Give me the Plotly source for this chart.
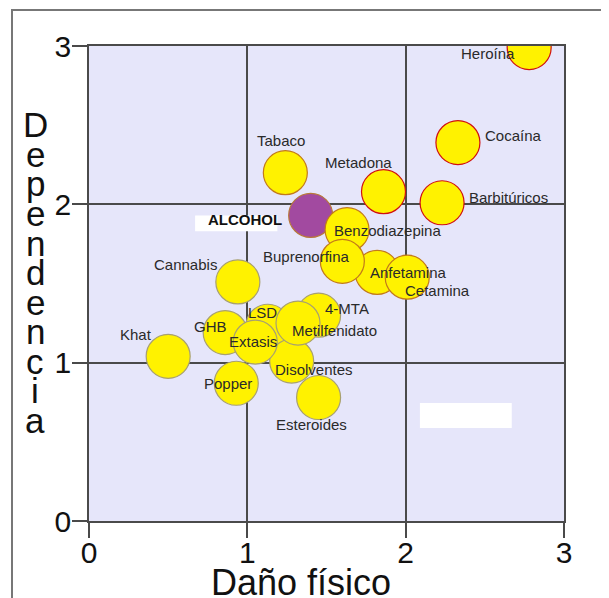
import plotly.graph_objects as go

# ---- data ----
drugs = ["Heroína", "Cocaína", "Barbitúricos", "Metadona", "ALCOHOL", "Cetamina",
         "Benzodiazepina", "Anfetamina", "Tabaco", "Buprenorfina", "Cannabis",
         "Disolventes", "4-MTA", "LSD", "Metilfenidato", "Esteroides", "GHB",
         "Extasis", "Popper", "Khat"]
dano_fisico = [2.78, 2.33, 2.23, 1.86, 1.40, 2.01,
               1.63, 1.82, 1.24, 1.60, 0.94,
               1.28, 1.45, 1.13, 1.32, 1.45, 0.86,
               1.05, 0.93, 0.50]
dependencia = [2.99, 2.39, 2.01, 2.08, 1.93, 1.54,
               1.84, 1.57, 2.20, 1.64, 1.51,
               1.01, 1.30, 1.23, 1.25, 0.78, 1.19,
               1.13, 0.87, 1.04]
x_ticks = [0, 1, 2, 3]
y_ticks = [0, 1, 2, 3]

# ---- styling ----
FONT = "Liberation Sans, Arial, sans-serif"
draw_order = ["Anfetamina", "Cetamina", "ALCOHOL", "Benzodiazepina", "Buprenorfina",
              "Tabaco", "Metadona", "Barbitúricos", "Cocaína", "Heroína",
              "LSD", "4-MTA", "GHB", "Disolventes", "Metilfenidato", "Extasis",
              "Popper", "Esteroides", "Khat", "Cannabis"]
red_edge = {"Heroína", "Cocaína", "Barbitúricos", "Metadona"}
orange_edge = {"Tabaco", "Benzodiazepina", "Buprenorfina", "Anfetamina", "Cetamina"}

# label offsets in px (dx right, dy down) and anchor
label_off = {
    "Heroína": (-41, 6, "center"), "Cocaína": (25, -7, "left"),
    "Barbitúricos": (25, -5, "left"), "Metadona": (-25, -29, "center"),
    "Tabaco": (-4, -32, "center"), "ALCOHOL": (-66, 4, "center"),
    "Benzodiazepina": (40, 1, "center"), "Buprenorfina": (-36, -5, "center"),
    "Anfetamina": (31, 0, "center"), "Cetamina": (30, 13, "center"),
    "Cannabis": (-52, -17, "center"), "4-MTA": (28, -7, "center"),
    "LSD": (-5, -14, "center"), "GHB": (-15, -6, "center"),
    "Metilfenidato": (36, 7, "center"), "Khat": (-32, -22, "center"),
    "Extasis": (-2, -1, "center"), "Disolventes": (22, 8, "center"),
    "Popper": (-8, 0, "center"), "Esteroides": (-7, 27, "center"),
}

idx = [drugs.index(n) for n in draw_order]
xs = [dano_fisico[i] for i in idx]
ys = [dependencia[i] for i in idx]
fills, edges = [], []
for n in draw_order:
    if n == "ALCOHOL":
        fills.append("#a24aa0"); edges.append("#b8783a")
    else:
        fills.append("#fff200")
        if n in red_edge:
            edges.append("#d01010")
        elif n in orange_edge:
            edges.append("#c27a1a")
        else:
            edges.append("#a8a070")

fig = go.Figure()
fig.add_trace(go.Scatter(
    x=xs, y=ys, mode="markers", text=draw_order, hoverinfo="text",
    marker=dict(size=44, color=fills, opacity=1,
                line=dict(color=edges, width=1.2)),
    cliponaxis=True, showlegend=False))

annotations = []
for n, xv, yv in zip(drugs, dano_fisico, dependencia):
    dx, dy, anc = label_off[n]
    bold = n == "ALCOHOL"
    annotations.append(dict(
        x=xv, y=yv, xref="x", yref="y", text=f"<b>{n}</b>" if bold else n,
        showarrow=False, xanchor=anc, yanchor="middle",
        xshift=dx, yshift=-dy,
        font=dict(family=FONT, size=15, color="#111" if bold else "#2a2a2a")))

# plot area in screen pixels: x 89..564, y 46..521 (page has an 8px body margin)
PX0, PY0, S = 89, 521, 475

# x-axis title
annotations.append(dict(x=(301 - PX0) / S, y=(PY0 - 582) / S, xref="paper", yref="paper",
                        text="Daño físico", showarrow=False, xanchor="center",
                        yanchor="middle", font=dict(family=FONT, size=36, color="#111")))
# y-axis title, letters stacked vertically
ytitle = "Dependencia"
for k, ch in enumerate(ytitle):
    base = 137 + 29.5 * k
    annotations.append(dict(x=(35 - PX0) / S, y=(PY0 - (base - 12)) / S,
                            xref="paper", yref="paper", text=ch, showarrow=False,
                            xanchor="center", yanchor="middle",
                            font=dict(family=FONT, size=35, color="#111")))

shapes = [
    # white boxes
    dict(type="rect", xref="x", yref="y", x0=0.67, x1=1.19, y0=1.83, y1=1.93,
         fillcolor="white", line=dict(width=0), layer="above"),
    dict(type="rect", xref="x", yref="y", x0=2.09, x1=2.67, y0=0.587, y1=0.745,
         fillcolor="white", line=dict(width=0), layer="above"),
    # outer frame
    dict(type="rect", xref="paper", yref="paper",
         x0=(12 - PX0) / S, x1=(607 - PX0) / S, y0=(PY0 - 620) / S, y1=(PY0 - 10) / S,
         line=dict(color="#777777", width=2), fillcolor="rgba(0,0,0,0)", layer="below"),
]

axis_common = dict(range=[0, 3], showgrid=True, gridcolor="#4a4a4a", gridwidth=1.5,
                   zeroline=False, showline=True, linecolor="#4a4a4a", linewidth=1.5,
                   mirror=True, ticks="outside", ticklen=15, tickwidth=1.5,
                   tickcolor="#4a4a4a", tickfont=dict(family=FONT, size=30, color="#111"),
                   fixedrange=True)

fig.update_layout(
    width=601, height=590,
    margin=dict(l=81, r=45, t=38, b=77, pad=0),
    paper_bgcolor="white", plot_bgcolor="#e6e6fa",
    xaxis=dict(**axis_common, tickvals=x_ticks, ticktext=[str(v) for v in x_ticks],
               ticklabelstandoff=-11),
    yaxis=dict(**axis_common, tickvals=y_ticks, ticktext=[str(v) for v in y_ticks],
               ticklabelstandoff=-5),
    annotations=annotations, shapes=shapes, showlegend=False,
)

fig.write_html("out.html")
